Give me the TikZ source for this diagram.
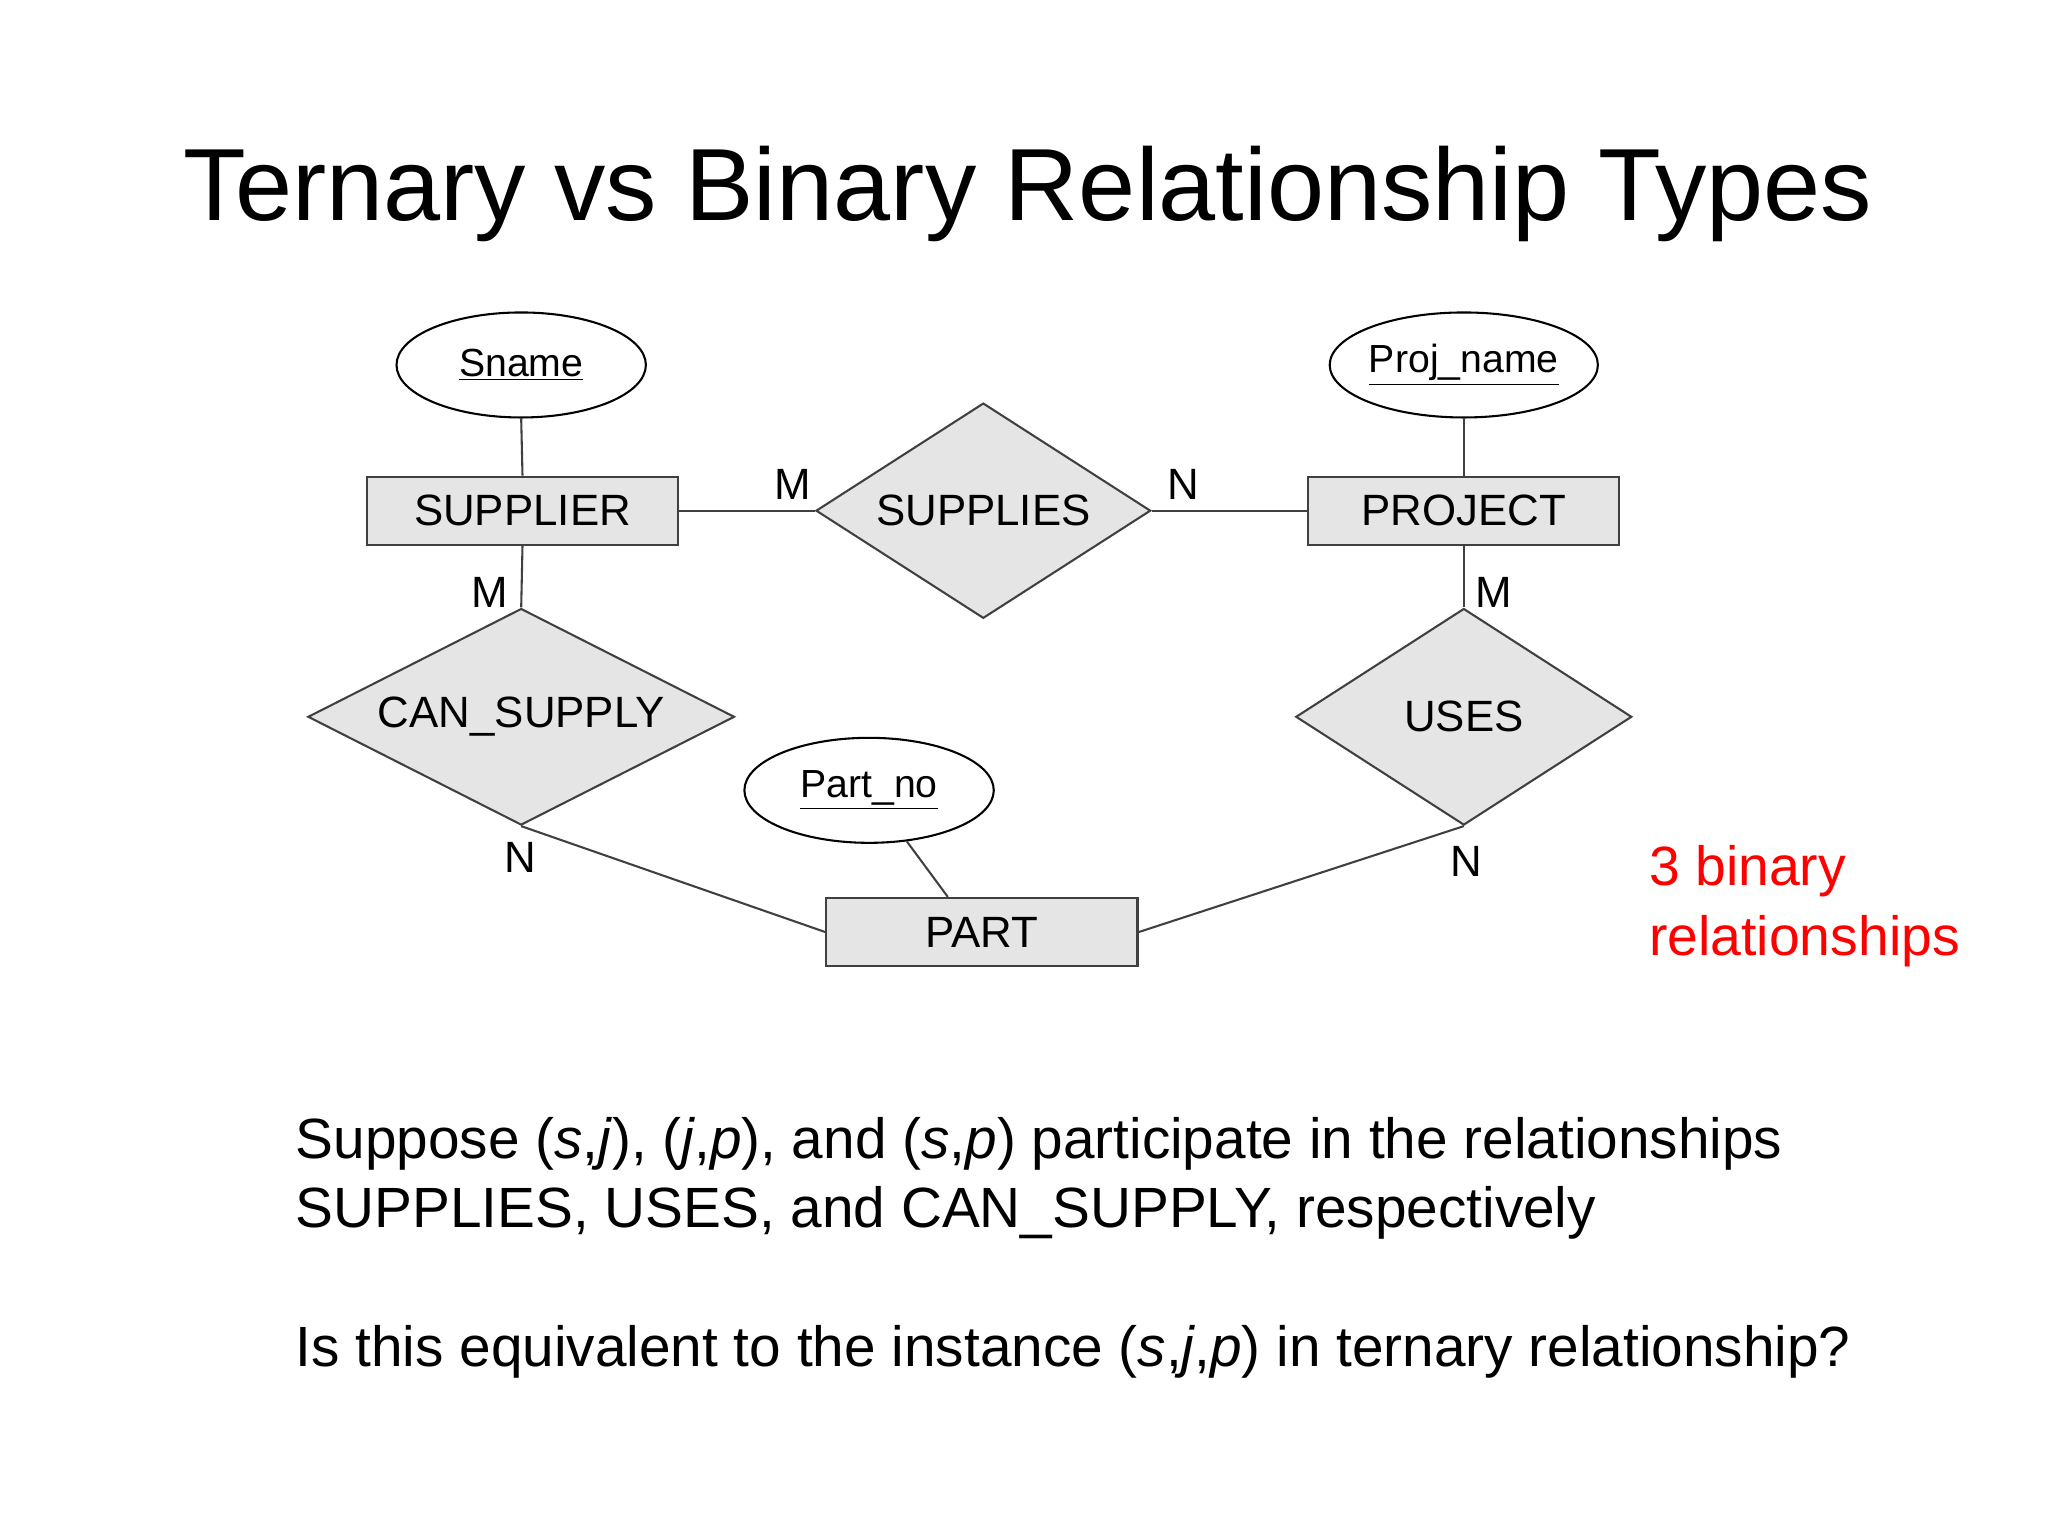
\documentclass[tikz,border=0pt]{standalone}
\usepackage{fontspec}
\setmainfont{Liberation Sans}
\usetikzlibrary{shapes.geometric}
\begin{document}
\begin{tikzpicture}[x=0.02cm,y=-0.02cm,
  ent/.style={draw=black!75,fill=black!10,line width=0.9pt,minimum width=4.74cm,minimum height=1.04cm,font=\fontsize{19}{22}\selectfont},
  rel/.style={draw=black!75,fill=black!10,line width=0.9pt,diamond,inner sep=0pt,font=\fontsize{19}{22}\selectfont},
  att/.style={draw=black,ellipse,line width=0.9pt,inner sep=0pt,minimum width=3.8cm,minimum height=1.6cm,font=\fontsize{17}{22}\selectfont},
  lbl/.style={font=\fontsize{19}{22}\selectfont},
  ln/.style={draw=black!75,line width=0.9pt}]
\useasboundingbox (0,0) rectangle (1560,1170);
\node at (783,148) {\fontsize{44.5}{52}\selectfont Ternary vs Binary Relationship Types};
\node[att] (sname) at (397,278) {\underline{Sname}};
\node[att,minimum width=3.7cm] (pname) at (1115,278) {\underline{Proj\_name}};
\node[att] (pno) at (662,602) {\underline{Part\_no}};
\node[ent] (sup) at (398,389) {SUPPLIER};
\node[ent] (proj) at (1115,389) {PROJECT};
\node[ent] (part) at (748,710) {PART};
\node[rel,minimum width=5.1cm,minimum height=3.28cm,aspect=1.555] (supplies) at (749,389) {SUPPLIES};
\node[rel,minimum width=6.5cm,minimum height=3.3cm,aspect=1.97] (can) at (397,546) {CAN\_SUPPLY};
\node[rel,minimum width=5.12cm,minimum height=3.3cm,aspect=1.55] (uses) at (1115,546) {USES};
\draw[ln] (sname.south) -- (sup.north);
\draw[ln] (pname.south) -- (proj.north);
\draw[ln] (sup.east) -- (supplies.west);
\draw[ln] (supplies.east) -- (proj.west);
\draw[ln] (sup.south) -- (can.north);
\draw[ln] (proj.south) -- (uses.north);
\draw[ln] (can.south) -- (part.west);
\draw[ln] (uses.south) -- (part.east);
\draw[ln] (pno) -- (part.north -| 722,0);
\node[lbl] at (604,369) {M};
\node[lbl] at (901,369) {N};
\node[lbl] at (373,451) {M};
\node[lbl] at (1138,451) {M};
\node[lbl] at (396,653) {N};
\node[lbl] at (1117,656) {N};
\node[red,anchor=north west,align=left,font=\fontsize{24}{30}\selectfont] at (1250,638) {3 binary\\relationships};
\node[anchor=north west,align=left,font=\fontsize{24.6}{30}\selectfont] at (219,845)
 {Suppose (\textit{s},\textit{j}), (\textit{j},\textit{p}), and (\textit{s},\textit{p}) participate in the relationships\\SUPPLIES, USES, and CAN\_SUPPLY, respectively\\[30pt]Is this equivalent to the instance (\textit{s},\textit{j},\textit{p}) in ternary relationship?};
\end{tikzpicture}
\end{document}
